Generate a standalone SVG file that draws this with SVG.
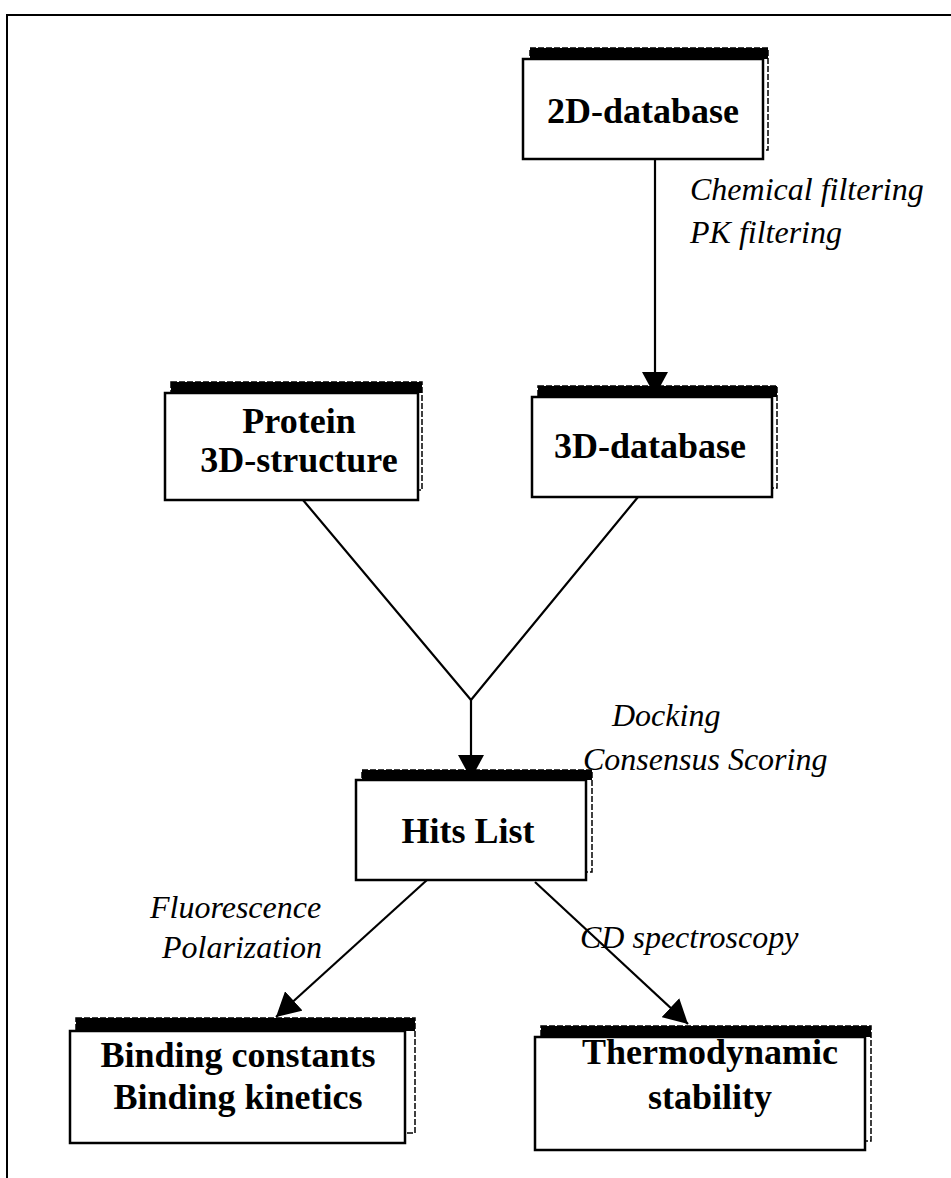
<svg xmlns="http://www.w3.org/2000/svg" width="951" height="1178" viewBox="0 0 951 1178">
<style>
.front{fill:#fff;stroke:#000;stroke-width:2.5}
.back{fill:#fff;stroke:#000;stroke-width:1.5;stroke-dasharray:6 2}
.bar{fill:#000}
.lbl{font-family:"Liberation Serif","Times New Roman",serif;font-weight:bold;font-size:36px;text-anchor:middle;fill:#000}
.it{font-family:"Liberation Serif","Times New Roman",serif;font-style:italic;font-size:32px;fill:#000}
.con{stroke:#000;stroke-width:2.2;fill:none}
</style>
<defs>
<marker id="ah" viewBox="0 0 24 26" refX="24" refY="13" markerWidth="24" markerHeight="26" markerUnits="userSpaceOnUse" orient="auto">
<path d="M0,0 L24,13 L0,26 Z" fill="#000"/>
</marker>
</defs>
<rect width="951" height="1178" fill="#fff"/>
<path d="M7,1178 L7,15 L951,15" fill="none" stroke="#000" stroke-width="2"/>

<g id="connectors">
<line class="con" x1="655" y1="159" x2="655" y2="396" marker-end="url(#ah)"/>
<polyline class="con" points="303,500 471,700 638,497"/>
<line class="con" x1="471" y1="700" x2="471" y2="779" marker-end="url(#ah)"/>
<line class="con" x1="427" y1="880" x2="276" y2="1017" marker-end="url(#ah)"/>
<line class="con" x1="535" y1="882" x2="688" y2="1024" marker-end="url(#ah)"/>
</g>

<g id="labels">
<text class="it" x="690" y="200">Chemical filtering</text>
<text class="it" x="690" y="243">PK filtering</text>
<text class="it" x="612" y="726">Docking</text>
<text class="it" x="583" y="770">Consensus Scoring</text>
<text class="it" x="150" y="918">Fluorescence</text>
<text class="it" x="162" y="958">Polarization</text>
<text class="it" x="580" y="948">CD spectroscopy</text>
</g>

<g id="node-2d">
<rect class="back" x="530" y="48" width="238" height="102"/>
<rect class="bar" x="530" y="48" width="238" height="11"/>
<rect class="front" x="523" y="59" width="240" height="100"/>
<text class="lbl" x="643" y="123">2D-database</text>
</g>

<g id="node-protein">
<rect class="back" x="171" y="382" width="251" height="108"/>
<rect class="bar" x="171" y="382" width="251" height="11"/>
<rect class="front" x="165" y="393" width="253" height="107"/>
<text class="lbl" x="299" y="433">Protein</text>
<text class="lbl" x="299" y="472">3D-structure</text>
</g>

<g id="node-3d">
<rect class="back" x="538" y="386" width="239" height="102"/>
<rect class="bar" x="538" y="386" width="239" height="11"/>
<rect class="front" x="532" y="397" width="240" height="100"/>
<text class="lbl" x="650" y="458">3D-database</text>
</g>

<g id="node-hits">
<rect class="back" x="362" y="770" width="230" height="102"/>
<rect class="bar" x="362" y="770" width="230" height="10"/>
<rect class="front" x="356" y="780" width="230" height="100"/>
<text class="lbl" x="468" y="843">Hits List</text>
</g>

<g id="node-binding">
<rect class="back" x="76" y="1018" width="339" height="115"/>
<rect class="bar" x="76" y="1018" width="339" height="13"/>
<rect class="front" x="70" y="1031" width="335" height="112"/>
<text class="lbl" x="238" y="1067">Binding constants</text>
<text class="lbl" x="238" y="1109">Binding kinetics</text>
</g>

<g id="node-thermo">
<rect class="back" x="541" y="1026" width="330" height="115"/>
<rect class="bar" x="541" y="1026" width="330" height="11"/>
<rect class="front" x="535" y="1037" width="330" height="113"/>
<text class="lbl" x="710" y="1064">Thermodynamic</text>
<text class="lbl" x="710" y="1109">stability</text>
</g>
</svg>
